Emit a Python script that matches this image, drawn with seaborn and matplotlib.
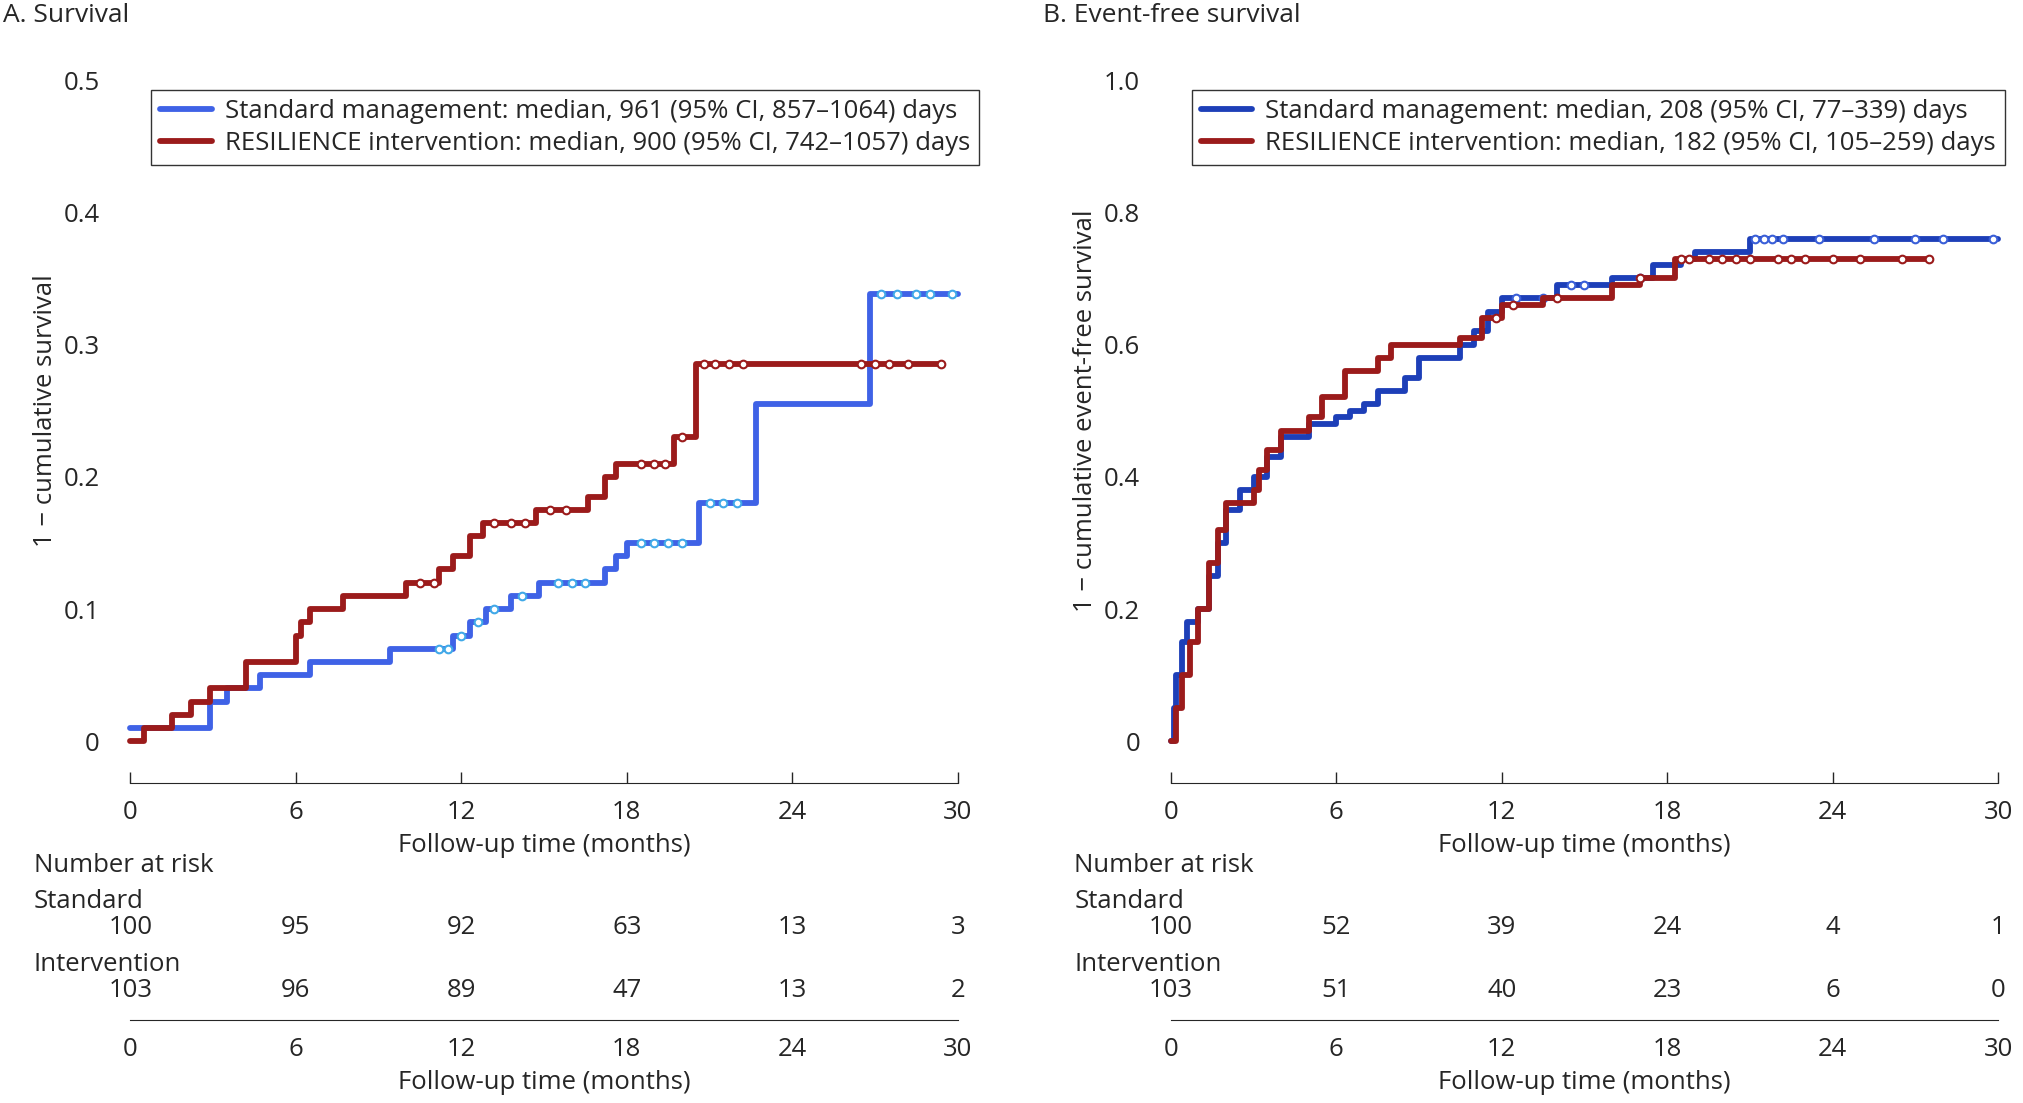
import matplotlib.pyplot as plt
import seaborn as sns
import pandas as pd
import numpy as np

# panel A: survival step points (months, 1 - cumulative survival)
a_std_t = [0, 2.9, 3.5, 4.7, 6.5, 9.4, 11.7, 12.3, 12.9, 13.8, 14.8, 17.2, 17.6, 18.0, 20.6, 22.7, 26.8, 30.0]
a_std_y = [0.01, 0.03, 0.04, 0.05, 0.06, 0.07, 0.08, 0.09, 0.10, 0.11, 0.12, 0.13, 0.14, 0.15, 0.18, 0.255, 0.338, 0.338]
a_int_t = [0, 0.5, 1.5, 2.2, 2.9, 4.2, 6.0, 6.2, 6.5, 7.7, 10.0, 11.2, 11.7, 12.3, 12.8, 14.7, 16.6, 17.2, 17.6, 19.7, 20.5, 29.4]
a_int_y = [0, 0.01, 0.02, 0.03, 0.04, 0.06, 0.08, 0.09, 0.10, 0.11, 0.12, 0.13, 0.14, 0.155, 0.165, 0.175, 0.185, 0.20, 0.21, 0.23, 0.285, 0.285]
a_std_cens = [11.2, 11.5, 12.0, 12.6, 13.2, 14.2, 15.5, 16.0, 16.5, 18.5, 19.0, 19.5, 20.0, 21.0, 21.5, 22.0, 27.2, 27.8, 28.5, 29.0, 29.8]
a_int_cens = [10.5, 11.0, 13.2, 13.8, 14.3, 15.2, 15.8, 18.5, 19.0, 19.4, 20.0, 20.8, 21.2, 21.7, 22.2, 26.5, 27.0, 27.5, 28.2, 29.4]

# panel B: event-free survival
b_std_t = [0, 0.1, 0.2, 0.4, 0.6, 1.0, 1.4, 1.7, 2.0, 2.5, 3.0, 3.5, 4.0, 5.0, 6.0, 6.5, 7.0, 7.5, 8.5, 9.0, 10.5, 11.0, 11.5, 12.0, 14.0, 16.0, 17.5, 18.5, 19.0, 21.0, 30.0]
b_std_y = [0, 0.05, 0.10, 0.15, 0.18, 0.20, 0.25, 0.30, 0.35, 0.38, 0.40, 0.43, 0.46, 0.48, 0.49, 0.50, 0.51, 0.53, 0.55, 0.58, 0.60, 0.62, 0.65, 0.67, 0.69, 0.70, 0.72, 0.73, 0.74, 0.76, 0.76]
b_int_t = [0, 0.2, 0.4, 0.7, 1.0, 1.4, 1.7, 2.0, 3.0, 3.2, 3.5, 4.0, 5.0, 5.5, 6.3, 7.5, 8.0, 10.5, 11.3, 12.0, 13.5, 16.0, 17.0, 18.3, 27.5]
b_int_y = [0, 0.05, 0.10, 0.15, 0.20, 0.27, 0.32, 0.36, 0.38, 0.41, 0.44, 0.47, 0.49, 0.52, 0.56, 0.58, 0.60, 0.61, 0.64, 0.66, 0.67, 0.69, 0.70, 0.73, 0.73]
b_std_cens = [12.5, 13.5, 14.5, 15.0, 17.0, 21.2, 21.5, 21.8, 22.2, 23.5, 25.5, 27.0, 28.0, 29.8]
b_int_cens = [11.8, 12.4, 14.0, 17.0, 18.5, 18.8, 19.5, 20.0, 20.5, 21.0, 22.0, 22.5, 23.0, 24.0, 25.0, 26.5, 27.5]

risk_times = [0, 6, 12, 18, 24, 30]
a_risk_std = [100, 95, 92, 63, 13, 3]
a_risk_int = [103, 96, 89, 47, 13, 2]
b_risk_std = [100, 52, 39, 24, 4, 1]
b_risk_int = [103, 51, 40, 23, 6, 0]

sns.set_style("white")
plt.rcParams['font.family'] = ['Open Sans', 'DejaVu Sans']
plt.rcParams['font.size'] = 18.5

W, H = 1568, 854
fig = plt.figure(figsize=(20.24, 11.03), dpi=100)


def step_val(ts, ys, t):
    idx = np.searchsorted(ts, t, side='right') - 1
    return ys[idx]


def panel(x0, ymax, title, ylabel, std, inter, std_c, int_c, cols, leg, r_std, r_int):
    ax = fig.add_axes([x0 / W, 1 - 574 / H, 641 / W, 512 / H])
    for (t, y), cens, col, ccol, lab in [(std, std_c, cols[0], cols[2], leg[0]), (inter, int_c, cols[1], cols[1], leg[1])]:
        df = pd.DataFrame({'t': t, 'y': y})
        sns.lineplot(data=df, x='t', y='y', ax=ax, drawstyle='steps-post', color=col, lw=4.2, label=lab, clip_on=False)
        cy = [step_val(t, y, c) for c in cens]
        ax.plot(cens, cy, 'o', ms=5.5, mfc='white', mec=ccol, mew=1.5, clip_on=False)
    ax.set_xlim(0, 30)
    ax.set_ylim(0, ymax)
    ax.set_xticks(risk_times)
    ax.set_yticks(np.linspace(0, ymax, 6))
    ax.set_yticklabels(['0'] + [f'{v:.1f}' for v in np.linspace(0, ymax, 6)[1:]])
    ax.set_xlabel('Follow-up time (months)', labelpad=6)
    ax.set_ylabel(ylabel, labelpad=4)
    for s in ['top', 'right', 'left']:
        ax.spines[s].set_visible(False)
    ax.spines['bottom'].set_position(('outward', 30))
    ax.tick_params(axis='x', direction='in', length=8, width=1, pad=12)
    ax.tick_params(axis='y', length=0, pad=22)
    ax.xaxis.set_ticks_position('bottom')
    lg = ax.legend(loc='upper left', bbox_to_anchor=(0.01, 1.005), frameon=True, fancybox=False,
                   edgecolor='black', handlelength=2.0, handletextpad=0.5, borderpad=0.35, labelspacing=0.3)
    lg.get_frame().set_linewidth(1)
    fig.text((x0 - 101) / W + 2 / W, 1 - 12 / H, title, fontsize=19, va='center')

    tb = fig.add_axes([x0 / W, 1 - 790 / H, 641 / W, 110 / H])
    tb.set_xlim(0, 30)
    tb.set_ylim(0, 1)
    tb.set_yticks([])
    tb.set_xticks(risk_times)
    for s in ['top', 'right', 'left']:
        tb.spines[s].set_visible(False)
    tb.tick_params(axis='x', length=0, pad=12)
    tb.set_xlabel('Follow-up time (months)', labelpad=6)
    lx = -3.5
    tb.text(lx, 1.09, 'Number at risk', va='center', clip_on=False)
    tb.text(lx, 0.836, 'Standard', va='center', clip_on=False)
    tb.text(lx, 0.39, 'Intervention', va='center', clip_on=False)
    for xt, a, b in zip(risk_times, r_std, r_int):
        tb.text(xt, 0.655, str(a), ha='center', va='center')
        tb.text(xt, 0.21, str(b), ha='center', va='center')
    return ax


panel(101, 0.5, 'A. Survival', '1 − cumulative survival',
      (a_std_t, a_std_y), (a_int_t, a_int_y), a_std_cens, a_int_cens,
      ['#3f62e6', '#9b1b1b', '#41a9e8'],
      ['Standard management: median, 961 (95% CI, 857–1064) days',
       'RESILIENCE intervention: median, 900 (95% CI, 742–1057) days'],
      a_risk_std, a_risk_int)
panel(907, 1.0, 'B. Event-free survival', '1 − cumulative event-free survival',
      (b_std_t, b_std_y), (b_int_t, b_int_y), b_std_cens, b_int_cens,
      ['#1d3fb8', '#9b1b1b', '#3a5fd8'],
      ['Standard management: median, 208 (95% CI, 77–339) days',
       'RESILIENCE intervention: median, 182 (95% CI, 105–259) days'],
      b_risk_std, b_risk_int)

fig.savefig('out.png', dpi=100)
